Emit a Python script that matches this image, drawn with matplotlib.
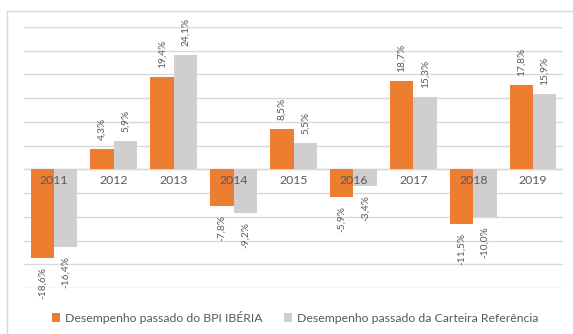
import numpy as np
import matplotlib
matplotlib.use("Agg")
import matplotlib.pyplot as plt
from matplotlib.lines import Line2D

plt.rcParams['font.family'] = ['Lato', 'DejaVu Sans']

years = ["2011", "2012", "2013", "2014", "2015", "2016", "2017", "2018", "2019"]
bpi_iberia = [-18.6, 4.3, 19.4, -7.8, 8.5, -5.9, 18.7, -11.5, 17.8]
carteira_ref = [-16.4, 5.9, 24.1, -9.2, 5.5, -3.4, 15.3, -10.0, 15.9]
series_names = ["Desempenho passado do BPI IBÉRIA",
                "Desempenho passado da Carteira Referência"]

ORANGE = "#ED7D31"
GREY = "#D0CECE"
TEXT = "#595959"
GRID = "#D9D9D9"

fig = plt.figure(figsize=(5.73, 3.34), dpi=100)
ax = fig.add_axes([0.0419, 0.1377, 0.9407, 0.7814])

x = np.arange(len(years))
w = 0.39
b1 = ax.bar(x - w / 2, bpi_iberia, w, color=ORANGE, label=series_names[0], zorder=2)
b2 = ax.bar(x + w / 2, carteira_ref, w, color=GREY, label=series_names[1], zorder=2)

ax.set_xlim(-0.5, len(years) - 0.5)
ax.set_ylim(-25, 30)
ax.set_yticks(np.arange(-25, 31, 5))
ax.yaxis.grid(True, color=GRID, linewidth=1.0, zorder=0)
ax.tick_params(left=False, bottom=False, labelleft=False, labelbottom=False)
for s in ax.spines.values():
    s.set_visible(False)
ax.axhline(0, color=GRID, linewidth=1.0, zorder=1)

# year labels sit just under the zero line, over the bars
for xi, yr in zip(x, years):
    ax.annotate(yr, (xi, 0), xytext=(0, -4), textcoords="offset points",
                ha="center", va="top", fontsize=8.8, color=TEXT, zorder=5)

# rotated value labels
def fmt(v):
    return f"{v:.1f}%".replace(".", ",")

for bars, vals in ((b1, bpi_iberia), (b2, carteira_ref)):
    for rect, v in zip(bars, vals):
        cx = rect.get_x() + rect.get_width() / 2
        off = 6.5 if v >= 0 else -6.5
        ax.annotate(fmt(v), (cx, v), xytext=(0, off), textcoords="offset points",
                    ha="center", va="bottom" if v >= 0 else "top",
                    rotation=90, fontsize=7.3, color=TEXT, zorder=5)

leg = fig.legend(handles=[b1, b2], loc="center", bbox_to_anchor=(0.515, 0.05),
                 ncol=2, frameon=False, fontsize=8.8, handlelength=0.65,
                 handleheight=0.65, handletextpad=0.4, columnspacing=1.8)
for t in leg.get_texts():
    t.set_color(TEXT)

# chart area border (top and left edges)
fig.add_artist(Line2D([7 / 573, 1], [1 - 11 / 334, 1 - 11 / 334],
                      transform=fig.transFigure, color=GRID, linewidth=1.0))
fig.add_artist(Line2D([7 / 573, 7 / 573], [0, 1 - 11 / 334],
                      transform=fig.transFigure, color=GRID, linewidth=1.0))

fig.savefig("out.png", dpi=100, facecolor="white")
